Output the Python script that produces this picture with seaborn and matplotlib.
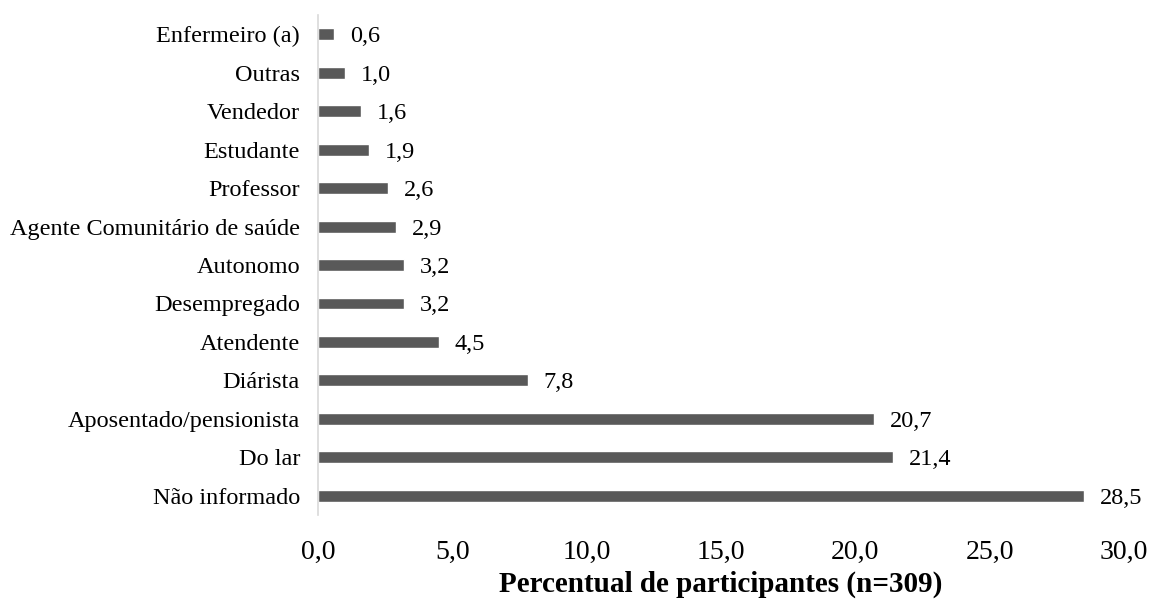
import matplotlib
matplotlib.use("Agg")
import matplotlib.pyplot as plt
import seaborn as sns
import pandas as pd

categorias = [
    "Enfermeiro (a)", "Outras", "Vendedor", "Estudante", "Professor",
    "Agente Comunitário de saúde", "Autonomo", "Desempregado", "Atendente",
    "Diárista", "Aposentado/pensionista", "Do lar", "Não informado",
]
percentuais = [0.6, 1.0, 1.6, 1.9, 2.6, 2.9, 3.2, 3.2, 4.5, 7.8, 20.7, 21.4, 28.5]
ticks_x = [0, 5, 10, 15, 20, 25, 30]

df = pd.DataFrame({"categoria": categorias, "percentual": percentuais})

sns.set_theme(style="white")
plt.rcParams["font.family"] = ["Liberation Serif", "DejaVu Serif"]

fig = plt.figure(figsize=(11.5, 6.03), dpi=100)
ax = fig.add_axes([318 / 1150, 1 - 515 / 603, (1124 - 318) / 1150, 500 / 603])

sns.barplot(data=df, x="percentual", y="categoria", orient="h",
            color="#595959", saturation=1, width=0.31, ax=ax)

for i, v in enumerate(percentuais):
    ax.annotate(f"{v:.1f}".replace(".", ","), xy=(v, i), xytext=(11.5, 0),
                textcoords="offset points", va="center_baseline", ha="left",
                fontsize=17.5, color="#000000")

ax.set_xlim(0, 30)
ax.set_ylim(12.5, -0.5)
ax.set_xticks(ticks_x)
ax.set_xticklabels([f"{t:.1f}".replace(".", ",") for t in ticks_x], fontsize=20)
ax.tick_params(axis="x", length=0, pad=18)
ax.tick_params(axis="y", length=0, pad=13, labelsize=17.5)
for lab in ax.get_yticklabels():
    lab.set_color("#000000")
for lab in ax.get_xticklabels():
    lab.set_color("#000000")

ax.set_ylabel("")
ax.set_xlabel("Percentual de participantes (n=309)", fontsize=21,
              fontweight="bold", color="#000000", labelpad=4)

for s in ["top", "right", "bottom"]:
    ax.spines[s].set_visible(False)
ax.spines["left"].set_color("#d9d9d9")
ax.spines["left"].set_linewidth(1.2)
ax.grid(False)

fig.savefig("out.png", dpi=100)
